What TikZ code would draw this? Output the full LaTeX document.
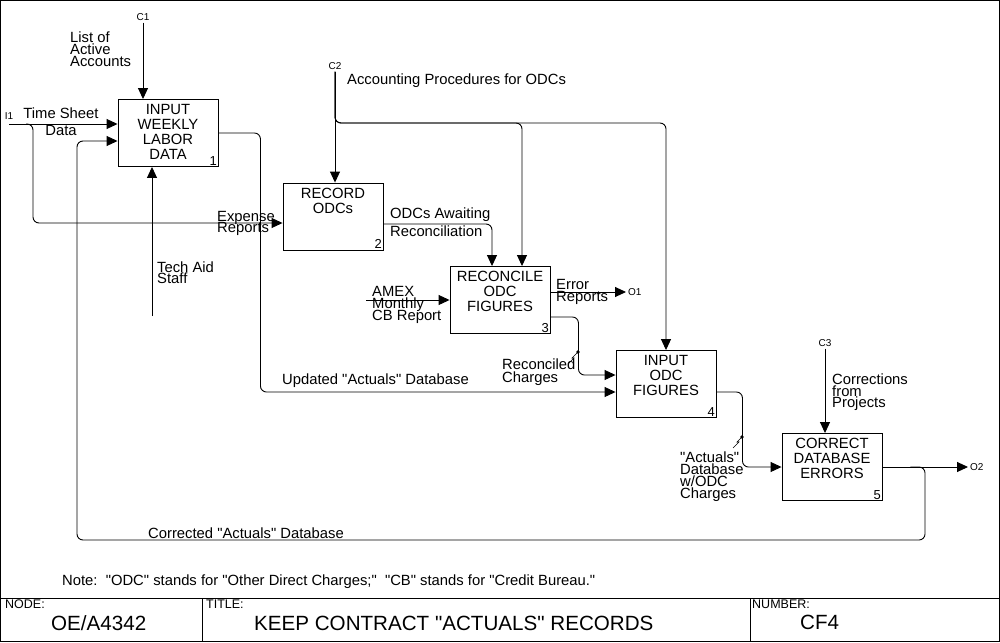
\documentclass[tikz,border=0pt]{standalone}
\usepackage{fontspec}
\setmainfont{Liberation Sans}[Ligatures=TeXOff]
\usetikzlibrary{arrows.meta,positioning}

\newcommand{\lblfont}{\fontsize{14.8}{12}\selectfont\lineskiplimit=-20pt}
\newcommand{\boxfont}{\fontsize{14.8}{15}\selectfont\lineskiplimit=-20pt}
\newcommand{\tagfont}{\fontsize{10}{10}\selectfont}
\newcommand{\titlefont}{\fontsize{20.6}{20}\selectfont}

\tikzset{
  fn/.style={draw, line width=0.9pt, minimum width=100pt, minimum height=67pt, inner sep=0pt},
  fntext/.style={font=\boxfont, align=center, inner sep=0pt, anchor=north},
  fnnum/.style={font=\fontsize{13}{13}\selectfont, inner sep=1.5pt, anchor=south east},
  lbl/.style={font=\lblfont, align=left, inner sep=0pt, anchor=north west},
  tag/.style={font=\tagfont, inner sep=2pt},
  small/.style={font=\fontsize{12.5}{12}\selectfont, inner sep=0pt, anchor=north west},
  big/.style={font=\titlefont, inner sep=0pt, anchor=west},
  flow/.style={draw, line width=0.9pt, rounded corners=6pt, -{Triangle[length=11pt,width=10pt]}},
}

\begin{document}
\begin{tikzpicture}[x=1pt,y=-1pt]
        \useasboundingbox (0,0) rectangle (1000,642);
        % Frame and title block
        \draw[line width=1.2pt] (0.6,0.6) rectangle (999.4,641.4);
        \draw[line width=1pt] (0,598) -- (1000,598);
        \draw[line width=1pt] (202,598) -- (202,642);
        \draw[line width=1pt] (750,598) -- (750,642);
        \node[small] (nodelbl) at (5,600) {NODE:};
        \node[small] (titlelbl) at (206,600) {TITLE:};
        \node[small] (numlbl) at (752,600) {NUMBER:};
        \node[big] (nodeval) at (51,623) {OE/A4342};
        \node[big] (titleval) at (254,623) {KEEP CONTRACT "ACTUALS" RECORDS};
        \node[big] (numval) at (800,622) {CF4};
        % Activity boxes
        \node[fn] (b1) at (168,133) {};
        \node[fn] (b2) at (333,216.5) {};
        \node[fn] (b3) at (500,300) {};
        \node[fn] (b4) at (666,384) {};
        \node[fn] (b5) at (832,467) {};
        \node[fntext] (b1t) at ([yshift=-5pt]b1.north) {INPUT\\WEEKLY\\LABOR\\DATA};
        \node[fntext] (b2t) at ([yshift=-5pt]b2.north) {RECORD\\ODCs};
        \node[fntext] (b3t) at ([yshift=-5pt]b3.north) {RECONCILE\\ODC\\FIGURES};
        \node[fntext] (b4t) at ([yshift=-5pt]b4.north) {INPUT\\ODC\\FIGURES};
        \node[fntext] (b5t) at ([yshift=-5pt]b5.north) {CORRECT\\DATABASE\\ERRORS};
        \node[fnnum] (b1n) at (b1.south east) {1};
        \node[fnnum] (b2n) at (b2.south east) {2};
        \node[fnnum] (b3n) at (b3.south east) {3};
        \node[fnnum] (b4n) at (b4.south east) {4};
        \node[fnnum] (b5n) at (b5.south east) {5};
        % Boundary tags
        \node[tag] (c1) at (143,17) {C1};
        \node[tag] (i1) at (9,116) {I1};
        \node[tag] (c2) at (335,66) {C2};
        \node[tag] (c3) at (825,343) {C3};
        \node[tag, anchor=west] (o1) at (626,292) {O1};
        \node[tag, anchor=west] (o2) at (968,467) {O2};
        % Arrow end points
        \coordinate (i1s) at (9,124);
        \coordinate (i1j) at (26,124);
        \coordinate (m1) at (152,316);
        \coordinate (amex) at (366,300);
        \coordinate (c2bus) at (335,123);
        \coordinate (fbR) at (925,540);
        \coordinate (fbL) at (77,540);
        \coordinate (b1in2) at ([yshift=-8pt]b1.west);
        \coordinate (b2in) at ([yshift=-6.5pt]b2.west);
        \coordinate (b2out) at ([yshift=-7.5pt]b2.east);
        \coordinate (b3in1) at ([xshift=-8pt]b3.north);
        \coordinate (b3in2) at ([xshift=22pt]b3.north);
        \coordinate (b3out1) at ([yshift=8pt]b3.east);
        \coordinate (b3out2) at ([yshift=-17pt]b3.east);
        \coordinate (b4in1) at ([yshift=9pt]b4.west);
        \coordinate (b4in2) at ([yshift=-8pt]b4.west);
        \coordinate (b4out) at ([yshift=-8pt]b4.east);
        % Arrows
        \draw[flow] (c1.south) -- (c1.south |- b1.north);
        \draw[flow] (i1s) -- (i1s -| b1.west);
        \draw[flow] (i1j) -- ++(7,0) |- (b2in);
        \draw[flow] (m1) -- (m1 |- b1.south);
        \draw[flow] (b1.east) -- ++(42,0) |- (b4in2);
        \draw[flow] (c2.south) -- (c2.south |- b2.north);
        \draw[flow] (c2.south) -- (c2bus) -| (b3in2);
        \draw[flow] (c2.south) -- (c2bus) -| (b4.north);
        \draw[flow] (b2out) -| (b3in1);
        \draw[flow] (amex) -- (amex -| b3.west);
        \draw[flow] (b3out1) -- (b3out1 -| o1.west);
        \draw[flow] (b3out2) -- ++(28,0) |- (b4in1);
        \draw[flow] (b4out) -- ++(26,0) |- (b5.west);
        \draw[flow] (c3.south) -- (c3.south |- b5.north);
        \draw[flow] (b5.east) -- (o2.west);
        \draw[flow] ([xshift=28pt]b5.east) -| (fbR) -- (fbL) |- (b1in2);
        % Squiggles to labels
        \fill (578,352) circle (1.8pt);
        \draw[line width=0.6pt] (578,352) -- (572,358) -- (574,358) -- (568,364);
        \fill (742,437) circle (1.8pt);
        \draw[line width=0.6pt] (742,437) -- (737,442) -- (739,442) -- (733,448);
        % Arrow labels
        \node[lbl] (l1) at (70,31.5) {List of\\Active\\Accounts};
        \node[lbl, align=center, anchor=north] (l2) at (61,107.5) {Time Sheet\\[5pt]Data};
        \node[lbl] (l3) at (217,211.5) {Expense\\[-1pt]Reports};
        \node[lbl] (l4) at (157,261.5) {Tech Aid\\[-1pt]Staff};
        \node[lbl] (l5) at (347,73.5) {Accounting Procedures for ODCs};
        \node[lbl] (l6) at (390,207.5) {ODCs Awaiting\\[6pt]Reconciliation};
        \node[lbl] (l7) at (372,286.5) {AMEX\\Monthly\\CB Report};
        \node[lbl] (l8) at (556,279.5) {Error\\Reports};
        \node[lbl] (l9) at (502,359) {Reconciled\\[1pt]Charges};
        \node[lbl] (l10) at (282,373.5) {Updated "Actuals" Database};
        \node[lbl] (l11) at (680,452) {"Actuals"\\Database\\w/ODC\\Charges};
        \node[lbl] (l12) at (832,374) {Corrections\\[-0.5pt]from\\[-0.5pt]Projects};
        \node[lbl] (l13) at (148,527.5) {Corrected "Actuals" Database};
        \node[lbl] (note) at (62,574.5) {Note:\ \ "ODC" stands for "Other Direct Charges;"\ \ "CB" stands for "Credit Bureau."};
      \end{tikzpicture}
\end{document}
